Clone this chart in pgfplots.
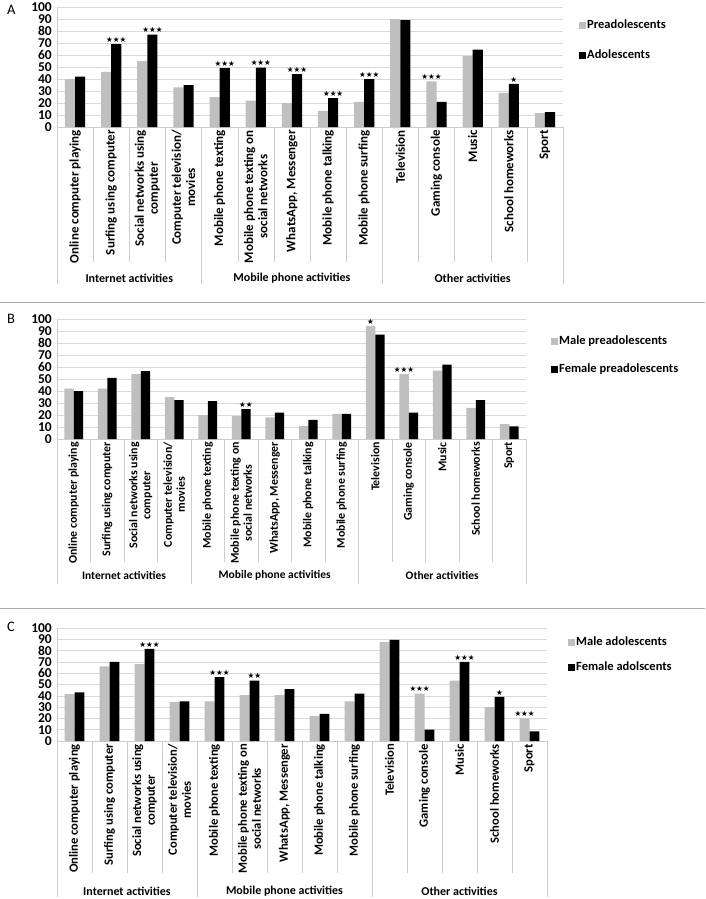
\documentclass[border=0pt]{standalone}
\usepackage{fontspec}
\setmainfont{Carlito}
\newfontfamily\starfont{DejaVu Sans}
\usepackage{pgfplots}
\usepackage{pgfplotstable}
\pgfplotsset{compat=1.18}
\definecolor{bargray}{RGB}{191,191,191}
\definecolor{gridgray}{RGB}{217,217,217}
\definecolor{sepgray}{RGB}{205,205,205}
\definecolor{linegray}{RGB}{170,170,170}

\pgfplotstableread{
x g b sg sb
0 40 42 {} {}
1 46 69 {} ★★★
2 55 77 {} ★★★
3 33 35 {} {}
4 25 49 {} ★★★
5 22 49.5 {} ★★★
6 20 44 {} ★★★
7 13.5 24 {} ★★★
8 21 40 {} ★★★
9 90 89 {} {}
10 38 21 ★★★ {}
11 59 64.5 {} {}
12 28.5 36 {} ★
13 11.5 12.5 {} {}
}\dataA

\pgfplotstableread{
x g b sg sb
0 42 40 {} {}
1 42 51 {} {}
2 54 56.5 {} {}
3 35 32.5 {} {}
4 20 31.5 {} {}
5 19 25 {} ★★
6 18 22 {} {}
7 11 16 {} {}
8 21 21 {} {}
9 94 87 ★ {}
10 54 22 ★★★ {}
11 57 62 {} {}
12 26 32.5 {} {}
13 12.5 10.5 {} {}
}\dataB

\pgfplotstableread{
x g b sg sb
0 41.5 43 {} {}
1 66 70 {} {}
2 68 81.5 {} ★★★
3 34.5 35 {} {}
4 35 56.5 {} ★★★
5 40.5 53.5 {} ★★
6 40.5 46 {} {}
7 22 24 {} {}
8 35 42 {} {}
9 87.5 89.5 {} {}
10 42 10 ★★★ {}
11 53.5 70 {} ★★★
12 30 39 {} ★
13 20 8.5 ★★★ {}
}\dataC

\pgfplotsset{
  panel/.style={
    scale only axis, anchor=south west,
    ybar=0pt, bar width=0.28,
    ymin=0, ymax=100, ytick={0,10,...,100},
    xmin=-0.5, xmax=13.5, xtick={0,...,13},
    axis x line*=bottom, axis y line*=left,
    axis line style={-, draw=sepgray},
    ymajorgrids, grid style={gridgray, line width=0.6pt},
    major tick length=0pt,
    clip=false,
    xticklabels={Online computer playing, Surfing using computer, {Social networks using\\computer}, {Computer television/\\movies}, Mobile phone texting, {Mobile phone texting on\\social networks}, {WhatsApp, Messenger}, Mobile phone talking, Mobile phone surfing, Television, Gaming console, Music, School homeworks, Sport},
    xticklabel style={rotate=90, anchor=east, align=center, inner sep=3pt},
    yticklabel style={font=\bfseries\fontsize{13.5}{13.5}\selectfont, inner xsep=5pt},
    /pgf/number format/assume math mode=true,
    legend style={draw=none, fill=none, font=\bfseries\fontsize{12.5}{14}\selectfont,
      at={(1,1)}, anchor=north west, legend cell align=left,
      nodes={inner sep=1pt, text height=9pt, text depth=3pt}},
    legend image code/.code={\fill[##1] (0pt,-3.5pt) rectangle (7pt,3.5pt);},
    nodes near coords style={font=\starfont\fontsize{7.5}{8}\selectfont, inner sep=1.5pt, text=black},
  },
  gbar/.style={fill=bargray, draw=none, nodes near coords, point meta=explicit symbolic},
  bbar/.style={fill=black, draw=none, nodes near coords, point meta=explicit symbolic},
}

\begin{document}
\begin{tikzpicture}
\useasboundingbox (0pt,0pt) rectangle (705pt,-899pt);

% ---------- Panel A ----------
\node[font=\fontsize{14.5}{14.5}\selectfont, anchor=north west, inner sep=0pt] at (7pt,-5pt) {A};
\begin{axis}[panel, at={(57pt,-127pt)}, width=506pt, height=120pt,
  xticklabel style={font=\bfseries\fontsize{13}{14.2}\selectfont},
  legend style={xshift=13pt, yshift=-9pt, row sep=16pt}]
\addplot[gbar] table[x=x, y=g, meta=sg] {\dataA};
\addplot[bbar] table[x=x, y=b, meta=sb] {\dataA};
\legend{Preadolescents, Adolescents}
\pgfplotsinvokeforeach{0.5,1.5,2.5,4.5,5.5,6.5,7.5,9.5,10.5,11.5,12.5}{\draw[sepgray] (axis cs:#1,0) -- ++(0pt,-135pt);}
\pgfplotsinvokeforeach{-0.5,3.5,8.5,13.5}{\draw[sepgray] (axis cs:#1,0) -- ++(0pt,-157pt);}
\node[font=\bfseries\fontsize{12}{12}\selectfont, yshift=-151pt] at (axis cs:1.5,0) {Internet activities};
\node[font=\bfseries\fontsize{12}{12}\selectfont, yshift=-151pt] at (axis cs:6,0) {Mobile phone activities};
\node[font=\bfseries\fontsize{12}{12}\selectfont, yshift=-151pt] at (axis cs:11,0) {Other activities};
\end{axis}
\draw[linegray, line width=0.8pt] (0pt,-302pt) -- (705pt,-302pt);

% ---------- Panel B ----------
\node[font=\fontsize{14.5}{14.5}\selectfont, anchor=north west, inner sep=0pt] at (7pt,-314pt) {B};
\begin{axis}[panel, at={(57pt,-439pt)}, width=469pt, height=120pt,
  xticklabel style={font=\bfseries\fontsize{11.9}{13}\selectfont},
  legend style={xshift=22pt, yshift=-13pt, row sep=14pt}]
\addplot[gbar] table[x=x, y=g, meta=sg] {\dataB};
\addplot[bbar] table[x=x, y=b, meta=sb] {\dataB};
\legend{Male preadolescents, Female preadolescents}
\pgfplotsinvokeforeach{0.5,1.5,2.5,4.5,5.5,6.5,7.5,9.5,10.5,11.5,12.5}{\draw[sepgray] (axis cs:#1,0) -- ++(0pt,-123pt);}
\pgfplotsinvokeforeach{-0.5,3.5,8.5,13.5}{\draw[sepgray] (axis cs:#1,0) -- ++(0pt,-145pt);}
\node[font=\bfseries\fontsize{11.5}{12}\selectfont, yshift=-136pt] at (axis cs:1.5,0) {Internet activities};
\node[font=\bfseries\fontsize{11.5}{12}\selectfont, yshift=-136pt] at (axis cs:6,0) {Mobile phone activities};
\node[font=\bfseries\fontsize{11.5}{12}\selectfont, yshift=-136pt] at (axis cs:11,0) {Other activities};
\end{axis}
\draw[linegray, line width=0.8pt] (0pt,-608pt) -- (705pt,-608pt);

% ---------- Panel C ----------
\node[font=\fontsize{14.5}{14.5}\selectfont, anchor=north west, inner sep=0pt] at (7pt,-622pt) {C};
\begin{axis}[panel, at={(57pt,-741pt)}, width=490pt, height=113pt,
  xticklabel style={font=\bfseries\fontsize{12.6}{13.8}\selectfont},
  legend style={xshift=18pt, yshift=-5pt, row sep=11pt}]
\addplot[gbar] table[x=x, y=g, meta=sg] {\dataC};
\addplot[bbar] table[x=x, y=b, meta=sb] {\dataC};
\legend{Male adolescents, Female adolscents}
\pgfplotsinvokeforeach{0.5,1.5,2.5,4.5,5.5,6.5,7.5,9.5,10.5,11.5,12.5}{\draw[sepgray] (axis cs:#1,0) -- ++(0pt,-132pt);}
\pgfplotsinvokeforeach{-0.5,3.5,8.5,13.5}{\draw[sepgray] (axis cs:#1,0) -- ++(0pt,-156pt);}
\node[font=\bfseries\fontsize{12}{12}\selectfont, yshift=-150pt] at (axis cs:1.5,0) {Internet activities};
\node[font=\bfseries\fontsize{12}{12}\selectfont, yshift=-150pt] at (axis cs:6,0) {Mobile phone activities};
\node[font=\bfseries\fontsize{12}{12}\selectfont, yshift=-150pt] at (axis cs:11,0) {Other activities};
\end{axis}
\end{tikzpicture}
\end{document}
